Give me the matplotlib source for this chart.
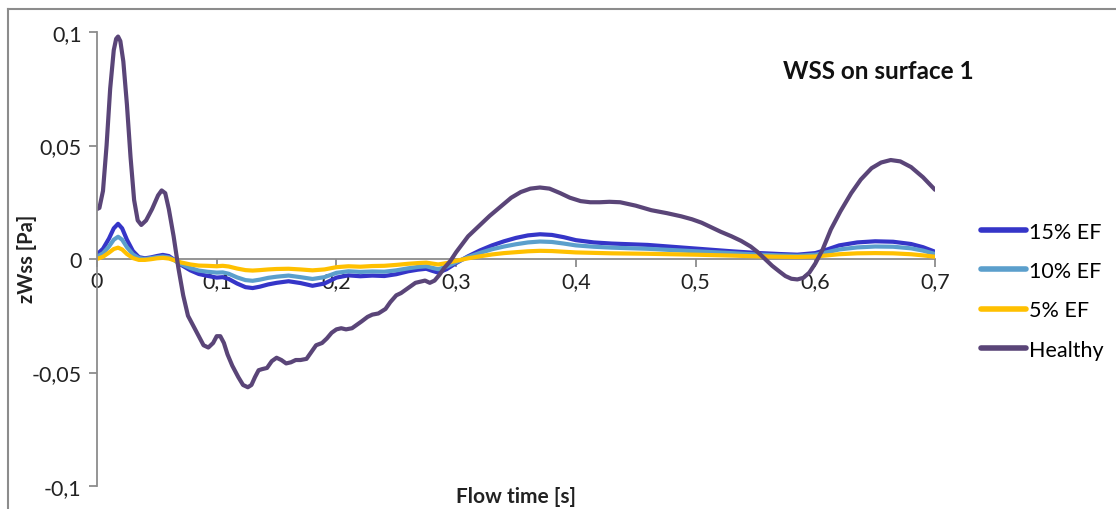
import matplotlib
matplotlib.use("Agg")
import matplotlib.pyplot as plt
from matplotlib.lines import Line2D

plt.rcParams['font.family'] = ['Lato', 'DejaVu Sans']

# --- data ---
t_healthy = [0.0, 0.002, 0.005, 0.008, 0.011, 0.014, 0.016, 0.0176, 0.0195, 0.022, 0.025, 0.028,
             0.031, 0.034, 0.037, 0.041, 0.046, 0.051, 0.054, 0.057, 0.06, 0.064, 0.068, 0.072,
             0.076, 0.08, 0.084, 0.089, 0.093, 0.097, 0.1, 0.103, 0.106, 0.109, 0.113, 0.118,
             0.122, 0.126, 0.129, 0.132, 0.135, 0.138, 0.142, 0.146, 0.15, 0.154, 0.158, 0.162,
             0.166, 0.17, 0.175, 0.179, 0.183, 0.188, 0.192, 0.196, 0.2, 0.204, 0.208, 0.213,
             0.217, 0.221, 0.226, 0.23, 0.235, 0.241, 0.245, 0.25, 0.254, 0.258, 0.262, 0.266,
             0.27, 0.274, 0.278, 0.282, 0.286, 0.29, 0.295, 0.3, 0.31, 0.32, 0.328, 0.337,
             0.346, 0.354, 0.362, 0.37, 0.378, 0.387, 0.395, 0.404, 0.412, 0.42, 0.428, 0.437,
             0.45, 0.463, 0.476, 0.488, 0.497, 0.505, 0.513, 0.521, 0.53, 0.538, 0.546, 0.552,
             0.558, 0.564, 0.57, 0.575, 0.58, 0.585, 0.59, 0.595, 0.6, 0.606, 0.613, 0.621,
             0.63, 0.638, 0.647, 0.655, 0.663, 0.671, 0.68, 0.69, 0.7]
healthy = [0.022, 0.0225, 0.03, 0.05, 0.075, 0.092, 0.097, 0.098, 0.096, 0.087, 0.068, 0.045,
           0.026, 0.017, 0.015, 0.017, 0.022, 0.028, 0.0302, 0.029, 0.022, 0.01, -0.004, -0.016,
           -0.025, -0.029, -0.033, -0.038, -0.039, -0.037, -0.034, -0.034, -0.037, -0.042, -0.047, -0.052,
           -0.0555, -0.0565, -0.0555, -0.052, -0.049, -0.0485, -0.048, -0.045, -0.0435, -0.0445, -0.046, -0.0455,
           -0.0445, -0.0445, -0.044, -0.041, -0.038, -0.037, -0.035, -0.0325, -0.031, -0.0305, -0.031, -0.0305,
           -0.029, -0.0275, -0.0255, -0.0245, -0.024, -0.022, -0.019, -0.016, -0.015, -0.0135, -0.012, -0.0105,
           -0.01, -0.0095, -0.0105, -0.0095, -0.007, -0.004, -0.001, 0.003, 0.01, 0.015, 0.019, 0.023,
           0.027, 0.0295, 0.031, 0.0315, 0.031, 0.029, 0.027, 0.0255, 0.025, 0.025, 0.0252, 0.025,
           0.0235, 0.0215, 0.0202, 0.0188, 0.0175, 0.016, 0.014, 0.012, 0.01, 0.008, 0.0055, 0.003,
           0.0, -0.003, -0.0055, -0.0075, -0.0087, -0.009, -0.0083, -0.006, -0.002, 0.004, 0.013, 0.021,
           0.029, 0.035, 0.040, 0.0425, 0.0436, 0.043, 0.0405, 0.036, 0.0305]

t_ef = [0.0, 0.005, 0.01, 0.014, 0.0176, 0.021, 0.025, 0.03, 0.035, 0.04, 0.045, 0.05, 0.055,
        0.06, 0.065, 0.07, 0.078, 0.085, 0.092, 0.1, 0.105, 0.11, 0.117, 0.124, 0.13, 0.136,
        0.143, 0.15, 0.16, 0.17, 0.18, 0.19, 0.2, 0.21, 0.22, 0.23, 0.24, 0.25, 0.26, 0.268,
        0.275, 0.28, 0.285, 0.292, 0.3, 0.31, 0.32, 0.33, 0.34, 0.35, 0.36, 0.37, 0.38, 0.39,
        0.4, 0.415, 0.43, 0.46, 0.5, 0.53, 0.55, 0.57, 0.585, 0.6, 0.61, 0.62, 0.635, 0.65,
        0.665, 0.68, 0.69, 0.7]
ef15 = [0.002, 0.0045, 0.009, 0.0135, 0.0155, 0.0135, 0.0085, 0.0035, 0.0008, 0.0003, 0.0007,
        0.0013, 0.0018, 0.0013, -0.0005, -0.0025, -0.005, -0.0066, -0.0074, -0.0082, -0.008,
        -0.0088, -0.0108, -0.0124, -0.0128, -0.0122, -0.0112, -0.0105, -0.0098, -0.0106,
        -0.0118, -0.0108, -0.0082, -0.0072, -0.0076, -0.0073, -0.0075, -0.0067, -0.0054,
        -0.0047, -0.0043, -0.0052, -0.006, -0.0045, -0.0018, 0.0012, 0.0038, 0.006, 0.0078,
        0.0093, 0.0104, 0.0109, 0.0106, 0.0096, 0.0083, 0.0073, 0.0068, 0.0062, 0.0046, 0.0034,
        0.0027, 0.0022, 0.0019, 0.0026, 0.0042, 0.006, 0.0073, 0.0078, 0.0076, 0.0066, 0.0052,
        0.0032]
ef10 = [0.001, 0.0025, 0.0055, 0.0085, 0.0098, 0.0085, 0.0052, 0.002, 0.0004, 0.0, 0.0004,
        0.0008, 0.0011, 0.0007, -0.0007, -0.0022, -0.004, -0.0051, -0.0056, -0.006, -0.0059,
        -0.0065, -0.0081, -0.0093, -0.0096, -0.0091, -0.0083, -0.0078, -0.0073, -0.008,
        -0.0088, -0.008, -0.0061, -0.0054, -0.0057, -0.0055, -0.0056, -0.005, -0.0041,
        -0.0035, -0.0032, -0.0039, -0.0045, -0.0034, -0.0014, 0.0009, 0.0027, 0.0043, 0.0055,
        0.0065, 0.0073, 0.0077, 0.0075, 0.0068, 0.006, 0.0054, 0.005, 0.0045, 0.0034, 0.0026,
        0.002, 0.0016, 0.0014, 0.0019, 0.003, 0.0042, 0.0051, 0.0055, 0.0054, 0.0047, 0.0037,
        0.0022]
ef5 = [0.0, 0.001, 0.0028, 0.0044, 0.005, 0.0042, 0.0022, 0.0004, -0.0004, -0.0004, -0.0001,
       0.0003, 0.0005, 0.0002, -0.0006, -0.0015, -0.0024, -0.0029, -0.003, -0.0032, -0.003,
       -0.0033, -0.0042, -0.0049, -0.0051, -0.0049, -0.0046, -0.0044, -0.0043, -0.0046,
       -0.005, -0.0046, -0.0036, -0.0032, -0.0034, -0.0031, -0.003, -0.0026, -0.0021,
       -0.0018, -0.0016, -0.002, -0.0024, -0.0018, -0.0008, 0.0003, 0.0012, 0.002, 0.0026,
       0.003, 0.0034, 0.0036, 0.0035, 0.0032, 0.0029, 0.0027, 0.0025, 0.0023, 0.0019, 0.0015,
       0.0012, 0.001, 0.0009, 0.0011, 0.0016, 0.0021, 0.0025, 0.0026, 0.0025, 0.0021, 0.0016,
       0.001]

labels = ['15% EF', '10% EF', '5% EF', 'Healthy']
colors = ['#3535C8', '#5B9FCC', '#FFC000', '#5A4578']

xticks = [0, 0.1, 0.2, 0.3, 0.4, 0.5, 0.6, 0.7]
xticklabels = ['0', '0,1', '0,2', '0,3', '0,4', '0,5', '0,6', '0,7']
yticks = [-0.1, -0.05, 0, 0.05, 0.1]
yticklabels = ['-0,1', '-0,05', '0', '0,05', '0,1']

fig = plt.figure(figsize=(11.16, 5.10), dpi=100)
ax = fig.add_axes([97 / 1116, 1 - 487 / 510, (935 - 97) / 1116, (487 - 33) / 510])

lw = 3.0
line_kw = dict(lw=lw, solid_capstyle='round', solid_joinstyle='round')
ax.plot(t_ef, ef15, color=colors[0], label=labels[0], **line_kw)
ax.plot(t_ef, ef10, color=colors[1], label=labels[1], **line_kw)
ax.plot(t_ef, ef5, color=colors[2], label=labels[2], **line_kw)
ax.plot(t_healthy, healthy, color=colors[3], label=labels[3], **line_kw)

ax.set_xlim(0, 0.7)
ax.set_ylim(-0.1, 0.1)

ax.spines['top'].set_visible(False)
ax.spines['right'].set_visible(False)
ax.spines['bottom'].set_position(('data', 0))
ax.spines['bottom'].set_zorder(0)
for s in ['left', 'bottom']:
    ax.spines[s].set_color('#8C8C8C')
    ax.spines[s].set_linewidth(1.3)

ax.set_xticks(xticks)
ax.set_xticklabels(xticklabels)
ax.set_yticks(yticks)
ax.set_yticklabels(yticklabels)
ax.tick_params(axis='both', colors='#8C8C8C', labelcolor='#222222', labelsize=15.5, length=6, width=1.3)
ax.tick_params(axis='x', pad=3)
ax.tick_params(axis='y', pad=5)

fig.text(27 / 1116, 1 - 259 / 510, 'zWss [Pa]', rotation=90, fontsize=14.5, fontweight='bold',
         ha='center', va='center', color='#222222')
fig.text(516 / 1116, 1 - 497 / 510, 'Flow time [s]', fontsize=15, fontweight='bold',
         ha='center', va='center', color='#222222')
fig.text(878 / 1116, 1 - 72 / 510, 'WSS on surface 1', fontsize=17.5, fontweight='bold',
         ha='center', va='center', color='#111111')

handles = [Line2D([0], [0], color=c, lw=4, solid_capstyle='round') for c in colors]
fig.legend(handles, labels, loc='upper left', bbox_to_anchor=(972 / 1116, 1 - 214 / 510),
           frameon=False, fontsize=15.5, handlelength=2.1, handletextpad=0.15, labelspacing=0.9,
           borderaxespad=0)

# outer chart border (top and left edges visible)
fig.add_artist(Line2D([8 / 1116, 8 / 1116], [0, 1 - 10 / 510], transform=fig.transFigure,
                      color='#8C8C8C', lw=1.5))
fig.add_artist(Line2D([8 / 1116, 1], [1 - 10 / 510, 1 - 10 / 510], transform=fig.transFigure,
                      color='#8C8C8C', lw=1.5))

fig.savefig('out.png', dpi=100)
